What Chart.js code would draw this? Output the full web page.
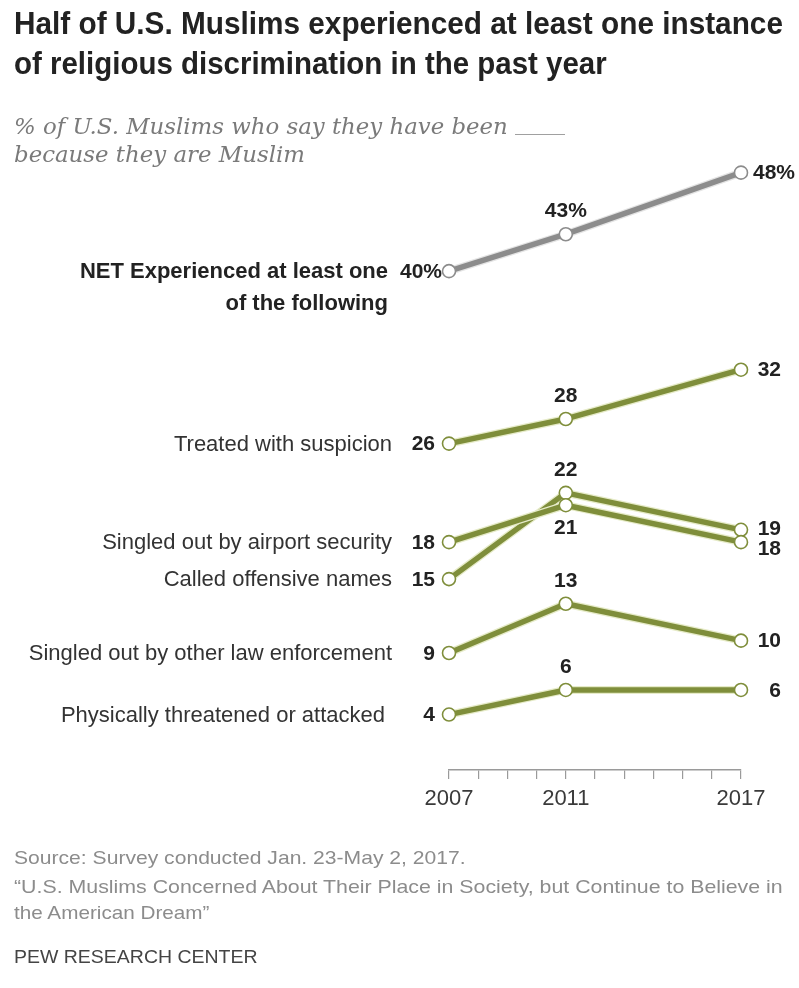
<!DOCTYPE html>
<html><head><meta charset="utf-8">
<script src="https://cdn.jsdelivr.net/npm/chart.js@4"></script>
<style>
body{margin:0;background:#fff;width:799px;height:988px;overflow:hidden;position:relative}
#c{position:absolute;left:0;top:0}
.t{position:absolute;white-space:nowrap;transform-origin:0 0;line-height:1;left:14px}
.title{font-family:"Liberation Sans",sans-serif;font-weight:bold;font-size:32px;color:#222}
.sub{font-family:"DejaVu Serif","Liberation Serif",serif;font-style:italic;font-size:22px;color:#7a7a7a}
.foot{font-family:"Liberation Sans",sans-serif;font-size:19px;color:#8c8c8c}
.pew{color:#444}
.blank{position:absolute;width:50px;height:0;border-bottom:1.5px solid #a0a0a0}
</style></head>
<body>
<canvas id="c" width="799" height="988"></canvas>
<div class="t title" style="top:7px" data-w="769">Half of U.S. Muslims experienced at least one instance</div>
<div class="t title" style="top:47px" data-w="593">of religious discrimination in the past year</div>
<div class="t sub" style="top:116px" data-w="494">% of U.S. Muslims who say they have been</div>
<div class="blank" style="left:515px;top:134px"></div>
<div class="t sub" style="top:144px" data-w="291">because they are Muslim</div>
<div class="t foot" style="top:848px" data-w="452">Source: Survey conducted Jan. 23-May 2, 2017.</div>
<div class="t foot" style="top:877px" data-w="769">“U.S. Muslims Concerned About Their Place in Society, but Continue to Believe in</div>
<div class="t foot" style="top:903px" data-w="196">the American Dream”</div>
<div class="t foot pew" style="top:947px" data-w="244">PEW RESEARCH CENTER</div>
<script>
// ---- data ----
const years = [2007, 2011, 2017];
const tickYears = [2007, 2011, 2017];
const seriesNames = [
  ['NET Experienced at least one', 'of the following'],
  ['Treated with suspicion'],
  ['Singled out by airport security'],
  ['Called offensive names'],
  ['Singled out by other law enforcement'],
  ['Physically threatened or attacked']
];
const netValues = [40, 43, 48];
const suspicionValues = [26, 28, 32];
const airportValues = [18, 21, 18];
const namesValues = [15, 22, 19];
const lawValues = [9, 13, 10];
const physicalValues = [4, 6, 6];
const seriesValues = [netValues, suspicionValues, airportValues, namesValues, lawValues, physicalValues];

// ---- styles ----
const olive = '#7f8e3b', oliveEdge = '#e6ebc8', grey = '#8c8c8c', greyEdge = '#e4e4e4';
const seriesStyle = [
  {color: grey, edge: greyEdge, suffix: '%', mid: 'above', leftDx: -7, rightAlign: 'left', rightDx: 12, rightDy: 0, bold: true, nameDx: -61},
  {color: olive, edge: oliveEdge, suffix: '', mid: 'above', leftDx: -14, rightAlign: 'right', rightDx: 40, rightDy: 0, bold: false, nameDx: -57},
  {color: olive, edge: oliveEdge, suffix: '', mid: 'below', leftDx: -14, rightAlign: 'right', rightDx: 40, rightDy: 6, bold: false, nameDx: -57},
  {color: olive, edge: oliveEdge, suffix: '', mid: 'above', leftDx: -14, rightAlign: 'right', rightDx: 40, rightDy: -2, bold: false, nameDx: -57},
  {color: olive, edge: oliveEdge, suffix: '', mid: 'above', leftDx: -14, rightAlign: 'right', rightDx: 40, rightDy: 0, bold: false, nameDx: -57},
  {color: olive, edge: oliveEdge, suffix: '', mid: 'above', leftDx: -14, rightAlign: 'right', rightDx: 40, rightDy: 0, bold: false, nameDx: -64}
];
const FONT = '"Liberation Sans", Arial, sans-serif';

// fit header/footer text widths
document.querySelectorAll('[data-w]').forEach(el => {
  const w = el.offsetWidth;
  const target = +el.dataset.w;
  if (w > 0) el.style.transform = 'scaleX(' + (target / w) + ')';
});

const outlinePlugin = {
  id: 'outline',
  beforeDatasetDraw(chart, args) {
    const pts = args.meta.data;
    const st = seriesStyle[args.index];
    const ctx = chart.ctx;
    ctx.save();
    ctx.beginPath();
    pts.forEach((p, k) => { if (k) ctx.lineTo(p.x, p.y); else ctx.moveTo(p.x, p.y); });
    ctx.lineWidth = 8;
    ctx.lineJoin = 'round';
    ctx.strokeStyle = st.edge;
    ctx.stroke();
    ctx.restore();
  }
};

const labelPlugin = {
  id: 'labels',
  afterDatasetsDraw(chart) {
    const ctx = chart.ctx;
    chart.data.datasets.forEach((ds, i) => {
      const pts = chart.getDatasetMeta(i).data;
      const st = seriesStyle[i];
      const vals = seriesValues[i];
      ctx.save();
      ctx.fillStyle = '#222';
      ctx.font = 'bold 21px ' + FONT;
      ctx.textBaseline = 'middle';
      ctx.textAlign = 'right';
      ctx.fillText(vals[0] + st.suffix, pts[0].x + st.leftDx, pts[0].y + 1);
      ctx.textAlign = 'center';
      ctx.fillText(vals[1] + st.suffix, pts[1].x, pts[1].y + (st.mid === 'above' ? -23 : 23));
      ctx.textAlign = st.rightAlign;
      ctx.fillText(vals[2] + st.suffix, pts[2].x + st.rightDx, pts[2].y + st.rightDy + 1);
      ctx.textAlign = 'right';
      ctx.font = (st.bold ? 'bold ' : '') + '22px ' + FONT;
      ctx.fillStyle = st.bold ? '#222' : '#333';
      seriesNames[i].forEach((ln, k) => ctx.fillText(ln, pts[0].x + st.nameDx, pts[0].y + 1 + k * 32));
      ctx.restore();
    });
  }
};

new Chart(document.getElementById('c'), {
  type: 'line',
  data: {
    datasets: seriesValues.map((vals, i) => ({
      label: seriesNames[i].join(' '),
      data: years.map((y, j) => ({x: y, y: vals[j]})),
      borderColor: seriesStyle[i].color,
      borderWidth: 5.5,
      borderJoinStyle: 'round',
      pointRadius: 6.5,
      pointBackgroundColor: '#fff',
      pointBorderColor: seriesStyle[i].color,
      pointBorderWidth: 1.6,
      tension: 0,
      clip: false,
      fill: false
    }))
  },
  options: {
    responsive: false,
    animation: false,
    devicePixelRatio: 1,
    layout: {padding: {left: 449, right: 58, top: 148, bottom: 178}},
    plugins: {legend: {display: false}, tooltip: {enabled: false}},
    scales: {
      x: {
        type: 'linear', min: 2007, max: 2017,
        afterFit(s) { s.height = 40; },
        grid: {display: true, drawOnChartArea: false, drawTicks: true, tickLength: 9, color: '#9a9a9a', lineWidth: 1.2},
        border: {display: true, color: '#9a9a9a', width: 1.5},
        ticks: {stepSize: 1, autoSkip: false, maxRotation: 0, padding: 7, color: '#3a3a3a',
          font: {family: FONT, size: 22},
          callback: v => tickYears.includes(v) ? String(v) : ''}
      },
      y: {display: false, min: -0.5, max: 50}
    }
  },
  plugins: [outlinePlugin, labelPlugin]
});
</script>
</body></html>
